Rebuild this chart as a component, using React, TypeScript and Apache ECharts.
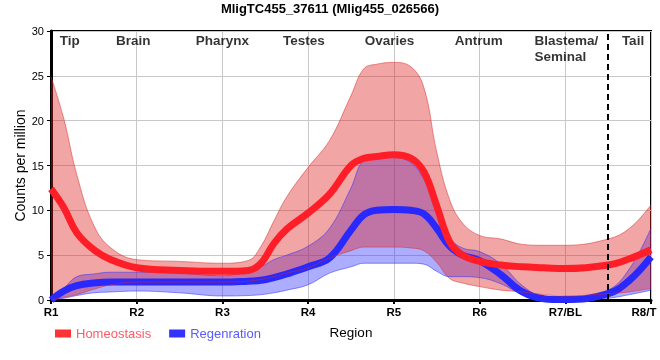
import React, { useEffect, useRef } from "react";
import * as echarts from "echarts";

const tickLabels = ["R1", "R2", "R3", "R4", "R5", "R6", "R7/BL", "R8/T"];
const regionNames = ["Tip", "Brain", "Pharynx", "Testes", "Ovaries", "Antrum", "Blastema/\nSeminal", "Tail"];
const regionPos = [0.22, 0.96, 2.0, 2.95, 3.95, 4.99, 5.64, 6.79];
const boundaryAt = 6.5;

const xs = [0, 0.15, 0.3, 0.5, 0.7, 1, 1.5, 2, 2.3, 2.45, 2.6, 2.75, 3, 3.25, 3.5, 3.65, 3.8, 4, 4.2, 4.35, 4.5, 4.65, 4.8, 5, 5.25, 5.5, 5.75, 6, 6.5, 6.75, 7];

const homeoMean = [12.4, 10.3, 7.5, 5.6, 4.5, 3.6, 3.3, 3.2, 3.3, 4.1, 6.3, 7.9, 9.7, 11.8, 15.0, 15.8, 16.0, 16.2, 15.8, 14.3, 10.5, 6.5, 5.0, 4.3, 3.9, 3.7, 3.6, 3.5, 3.9, 4.6, 5.6];
const homeoHigh = [24.9, 20.2, 14.0, 8.3, 5.8, 4.5, 4.3, 4.1, 4.4, 6.0, 8.8, 11.5, 14.8, 17.8, 22.8, 25.8, 26.3, 26.5, 26.0, 23.7, 16.5, 11.2, 8.6, 7.2, 6.8, 6.2, 6.1, 6.1, 6.8, 8.0, 10.6];
const homeoLow = [0, 0.3, 0.6, 1.2, 1.7, 2.0, 2.0, 2.0, 2.1, 2.3, 2.6, 3.0, 3.6, 4.7, 5.5, 5.9, 5.9, 5.9, 5.8, 5.5, 4.2, 2.4, 1.9, 1.5, 1.1, 0.9, 0.6, 0.45, 0.7, 0.9, 1.3];

const regenMean = [0, 1.0, 1.6, 1.9, 2.0, 2.0, 2.0, 2.0, 2.1, 2.2, 2.5, 2.9, 3.7, 4.7, 7.8, 9.5, 10.0, 10.1, 10.0, 9.6, 8.0, 6.0, 5.0, 4.4, 2.8, 0.9, 0.15, 0.05, 0.7, 2.2, 4.8];
const regenHigh = [0.2, 1.3, 2.6, 2.9, 3.1, 3.1, 3.0, 2.7, 3.2, 3.7, 4.5, 5.0, 6.0, 8.0, 12.5, 15.6, 15.9, 15.9, 15.3, 13.5, 10.8, 7.0, 5.8, 5.4, 4.0, 1.6, 0.3, 0.1, 1.1, 3.5, 8.0];
const regenLow = [0, 0.2, 0.5, 0.8, 0.9, 1.0, 0.8, 0.45, 0.5, 0.6, 0.8, 1.1, 1.7, 3.0, 3.7, 4.1, 4.1, 4.1, 4.1, 4.0, 3.2, 2.6, 2.6, 2.5, 1.8, 0.6, 0.05, 0, 0.2, 0.6, 1.1];

const SANS = "'Liberation Sans', Arial, sans-serif";
const SMOOTH = 0.4;
const TICK_FONT = { fontFamily: SANS, fontWeight: "bold", fontSize: 11.5, color: "#000" };

function band(key: string, low: number[], high: number[], fill: string, edge: string) {
  return [
    {
      name: key + "-low",
      type: "line",
      stack: key,
      data: xs.map((x, i) => [low[i], x]),
      encode: { x: 1, y: 0 },
      smooth: SMOOTH,
      symbol: "none",
      lineStyle: { width: 1, color: edge },
      silent: true,
    },
    {
      name: key + "-range",
      type: "line",
      stack: key,
      data: xs.map((x, i) => [high[i] - low[i], x]),
      encode: { x: 1, y: 0 },
      smooth: SMOOTH,
      symbol: "none",
      lineStyle: { width: 1, color: edge },
      areaStyle: { color: fill, opacity: 1 },
      silent: true,
    },
  ];
}

export default function App() {
  const ref = useRef<HTMLDivElement>(null);
  useEffect(() => {
    if (!ref.current) return;
    const chart = echarts.init(ref.current, undefined, { renderer: "svg" });
    const lastIdx = tickLabels.length - 1;
    const option: any = {
      animation: false,
      title: {
        text: "MligTC455_37611 (Mlig455_026566)",
        left: "center",
        top: 2,
        padding: 0,
        textStyle: { fontFamily: SANS, fontWeight: "bold", fontSize: 13, color: "#000" },
      },
      legend: {
        left: 50,
        top: 322,
        itemWidth: 16,
        itemHeight: 8,
        itemGap: 18,
        icon: "rect",
        textStyle: { fontFamily: SANS, fontSize: 13 },
        data: [
          { name: "Homeostasis", itemStyle: { color: "#ff3333" }, textStyle: { color: "#ff5a64" } },
          { name: "Regenration", itemStyle: { color: "#3333ff" }, textStyle: { color: "#5a5aff" } },
        ],
      },
      grid: {
        left: 51,
        right: 9,
        top: 31,
        bottom: 60,
        outerBoundsMode: "none",
        containLabel: false,
        show: true,
        borderColor: "#000",
        borderWidth: 2,
        backgroundColor: "transparent",
      },
      xAxis: {
        type: "value",
        min: 0,
        max: 7,
        interval: 1,
        name: "Region",
        nameLocation: "middle",
        nameGap: 25,
        nameMoveOverlap: false,
        nameTextStyle: { fontFamily: SANS, fontSize: 13.5, color: "#000" },
        axisLine: { lineStyle: { color: "#000", width: 3 } },
        axisTick: { show: true, length: 4, lineStyle: { color: "#000", width: 2 } },
        axisLabel: {
          formatter: (v: number) => {
            const i = Math.round(v);
            const t = tickLabels[i] ?? "";
            return i === lastIdx ? "{last|" + t + "}" : t;
          },
          ...TICK_FONT,
          margin: 6,
          rich: { last: { ...TICK_FONT, padding: [0, 14, 0, 0] } },
        },
        splitLine: { show: true, lineStyle: { color: "#c8c8c8", width: 1 } },
      },
      yAxis: {
        type: "value",
        min: 0,
        max: 30,
        interval: 5,
        name: "Counts per million",
        nameLocation: "middle",
        nameGap: 24,
        nameMoveOverlap: false,
        nameTextStyle: { fontFamily: SANS, fontSize: 14, color: "#000" },
        axisLine: { show: true, lineStyle: { color: "#000", width: 3 } },
        axisTick: { show: true, length: 4, lineStyle: { color: "#000", width: 1 } },
        axisLabel: { fontFamily: SANS, fontSize: 11, color: "#000", margin: 7 },
        splitLine: { show: true, lineStyle: { color: "#c8c8c8", width: 1 } },
      },
      series: [
        ...band("regenBand", regenLow, regenHigh, "rgba(50,50,255,0.4)", "rgba(50,50,255,0.55)"),
        {
          name: "Regenration",
          type: "line",
          data: xs.map((x, i) => [x, regenMean[i]]),
          smooth: SMOOTH,
          symbol: "none",
          lineStyle: { width: 7, color: "#2828ff" },
          itemStyle: { color: "#3333ff" },
        },
        ...band("homeoBand", homeoLow, homeoHigh, "rgba(220,30,30,0.4)", "rgba(220,40,40,0.5)"),
        {
          name: "Homeostasis",
          type: "line",
          data: xs.map((x, i) => [x, homeoMean[i]]),
          smooth: SMOOTH,
          symbol: "none",
          lineStyle: { width: 7, color: "#ff1e28" },
          itemStyle: { color: "#ff3333" },
          markLine: {
            silent: true,
            symbol: "none",
            label: { show: false },
            lineStyle: { color: "#000", type: [6, 4], width: 2 },
            data: [{ xAxis: boundaryAt }],
          },
        },
        {
          name: "regions",
          type: "scatter",
          symbolSize: 0,
          silent: true,
          clip: false,
          data: regionPos.map((x, i) => ({
            value: [x, 29.85],
            name: regionNames[i],
            label: i === 6 ? { align: "left" } : undefined,
          })),
          label: {
            show: true,
            position: "inside",
            formatter: (p: any) => p.name,
            fontFamily: SANS,
            fontWeight: "bold",
            fontSize: 13.5,
            lineHeight: 16,
            color: "#000",
            align: "center",
            verticalAlign: "top",
          },
        },
      ],
    };
    chart.setOption(option);
    return () => chart.dispose();
  }, []);
  return <div ref={ref} style={{ position: "fixed", left: 0, top: 0, width: 660, height: 360 }} />;
}
